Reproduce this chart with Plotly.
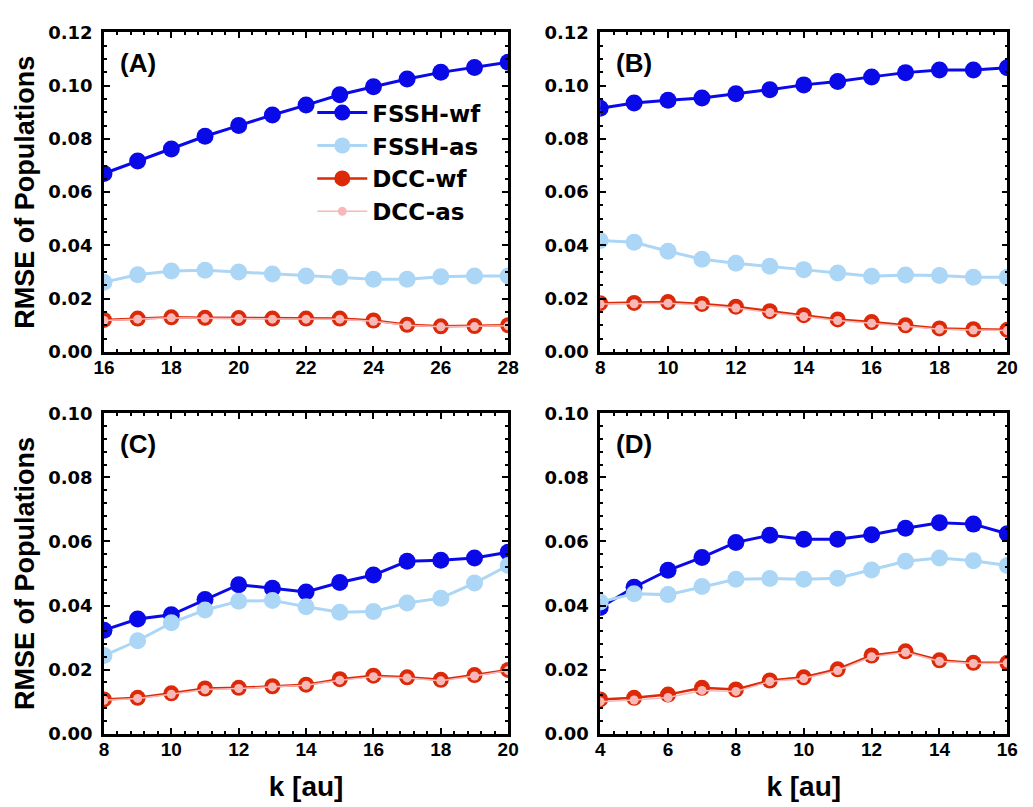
import plotly.graph_objects as go

# ---------------- data ----------------
k_A = [16, 17, 18, 19, 20, 21, 22, 23, 24, 25, 26, 27, 28]
A_fssh_wf = [0.0670, 0.0717, 0.0762, 0.0810, 0.0850, 0.0890, 0.0927, 0.0966, 0.0996, 0.1025, 0.1050, 0.1068, 0.1088]
A_fssh_as = [0.0262, 0.0290, 0.0304, 0.0307, 0.0300, 0.0293, 0.0285, 0.0280, 0.0273, 0.0273, 0.0282, 0.0285, 0.0285]
A_dcc_wf = [0.0120, 0.0125, 0.0130, 0.0128, 0.0127, 0.0125, 0.0125, 0.0125, 0.0118, 0.0102, 0.0096, 0.0097, 0.0100]
A_dcc_as = [0.0118, 0.0123, 0.0128, 0.0126, 0.0125, 0.0123, 0.0123, 0.0123, 0.0115, 0.0100, 0.0094, 0.0095, 0.0098]

k_B = [8, 9, 10, 11, 12, 13, 14, 15, 16, 17, 18, 19, 20]
B_fssh_wf = [0.0915, 0.0935, 0.0945, 0.0954, 0.0970, 0.0985, 0.1003, 0.1016, 0.1033, 0.1049, 0.1059, 0.1059, 0.1067]
B_fssh_as = [0.0418, 0.0412, 0.0378, 0.0348, 0.0333, 0.0322, 0.0309, 0.0296, 0.0284, 0.0289, 0.0287, 0.0280, 0.0280]
B_dcc_wf = [0.0183, 0.0184, 0.0187, 0.0180, 0.0170, 0.0153, 0.0138, 0.0122, 0.0112, 0.0100, 0.0088, 0.0085, 0.0083]
B_dcc_as = [0.0180, 0.0181, 0.0183, 0.0176, 0.0165, 0.0148, 0.0133, 0.0118, 0.0108, 0.0096, 0.0085, 0.0082, 0.0080]

k_C = [8, 9, 10, 11, 12, 13, 14, 15, 16, 17, 18, 19, 20]
C_fssh_wf = [0.0323, 0.0358, 0.0371, 0.0419, 0.0465, 0.0454, 0.0442, 0.0472, 0.0495, 0.0538, 0.0541, 0.0548, 0.0566]
C_fssh_as = [0.0244, 0.0290, 0.0346, 0.0386, 0.0413, 0.0416, 0.0396, 0.0379, 0.0381, 0.0408, 0.0423, 0.0470, 0.0525]
C_dcc_wf = [0.0107, 0.0112, 0.0126, 0.0141, 0.0143, 0.0148, 0.0153, 0.0170, 0.0181, 0.0176, 0.0168, 0.0183, 0.0199]
C_dcc_as = [0.0104, 0.0110, 0.0123, 0.0138, 0.0141, 0.0146, 0.0151, 0.0167, 0.0178, 0.0174, 0.0165, 0.0180, 0.0197]

k_D = [4, 5, 6, 7, 8, 9, 10, 11, 12, 13, 14, 15, 16]
D_fssh_wf = [0.0394, 0.0457, 0.0510, 0.0550, 0.0597, 0.0619, 0.0607, 0.0607, 0.0621, 0.0641, 0.0658, 0.0654, 0.0624]
D_fssh_as = [0.0411, 0.0437, 0.0434, 0.0459, 0.0482, 0.0484, 0.0482, 0.0485, 0.0511, 0.0538, 0.0548, 0.0540, 0.0525]
D_dcc_wf = [0.0107, 0.0112, 0.0122, 0.0143, 0.0138, 0.0166, 0.0176, 0.0201, 0.0244, 0.0257, 0.0229, 0.0221, 0.0221]
D_dcc_as = [0.0100, 0.0105, 0.0113, 0.0135, 0.0132, 0.0163, 0.0172, 0.0197, 0.0240, 0.0254, 0.0226, 0.0219, 0.0220]

panel_labels = ["(A)", "(B)", "(C)", "(D)"]
series_names = ["FSSH-wf", "FSSH-as", "DCC-wf", "DCC-as"]
x_title = "k [au]"
y_title = "RMSE of Populations"

# ---------------- styling ----------------
C_FSSH_WF = "#0a0ae8"
C_FSSH_AS = "#acd6f6"
C_DCC_WF = "#dc2a08"
C_DCC_AS = "#f8b8b8"

styles = [
    dict(color=C_FSSH_WF, lw=3, ms=17),
    dict(color=C_FSSH_AS, lw=3, ms=17),
    dict(color=C_DCC_WF, lw=2.5, ms=16),
    dict(color=C_DCC_AS, lw=1.5, ms=9),
]

panels = [
    (k_A, [A_fssh_wf, A_fssh_as, A_dcc_wf, A_dcc_as], [16, 28], [0, 0.12]),
    (k_B, [B_fssh_wf, B_fssh_as, B_dcc_wf, B_dcc_as], [8, 20], [0, 0.12]),
    (k_C, [C_fssh_wf, C_fssh_as, C_dcc_wf, C_dcc_as], [8, 20], [0, 0.10]),
    (k_D, [D_fssh_wf, D_fssh_as, D_dcc_wf, D_dcc_as], [4, 16], [0, 0.10]),
]

W, H = 1033, 807
# pixel boxes: (left, right, top, bottom)
boxes = [(95, 508, 22, 350), (602, 1018, 22, 350), (95, 508, 413, 742), (602, 1018, 413, 742)]

SANS = "Liberation Sans, Arial"
WIDE = "DejaVu Sans"

fig = go.Figure()
layout = dict(
    width=W, height=H,
    margin=dict(l=0, r=0, t=0, b=0),
    plot_bgcolor="white", paper_bgcolor="white",
    showlegend=True,
    legend=dict(x=0.298, y=0.898, xanchor="left", yanchor="top",
                bgcolor="rgba(0,0,0,0)", borderwidth=0,
                font=dict(family=WIDE, size=23, color="black", weight="bold"),
                tracegroupgap=0, itemwidth=50),
)

annotations = []
for i, (kx, ys, xr, yr) in enumerate(panels):
    n = i + 1
    xa = "x" if n == 1 else f"x{n}"
    ya = "y" if n == 1 else f"y{n}"
    for j, y in enumerate(ys):
        s = styles[j]
        fig.add_trace(go.Scatter(
            x=kx, y=y, mode="lines+markers", name=series_names[j],
            line=dict(color=s["color"], width=s["lw"]),
            marker=dict(color=s["color"], size=s["ms"], line=dict(width=0)),
            xaxis=xa, yaxis=ya, showlegend=(i == 0), legendgroup=series_names[j],
        ))
    l, r, t, b = boxes[i]
    xdom = [l / W, r / W]
    ydom = [1 - b / H, 1 - t / H]
    ymin = 0.005 if yr[1] > 0.11 else 0.004
    common = dict(showline=True, linecolor="black", linewidth=2.5, mirror="allticks",
                  ticks="inside", ticklen=6, tickwidth=2, tickcolor="black",
                  showgrid=False, zeroline=False)
    xkey = "xaxis" if n == 1 else f"xaxis{n}"
    ykey = "yaxis" if n == 1 else f"yaxis{n}"
    layout[xkey] = dict(domain=xdom, range=xr, anchor=ya, dtick=2, tick0=0,
                        minor=dict(dtick=0.4, ticklen=3, tickwidth=2, tickcolor="black", ticks="inside"),
                        tickfont=dict(family=SANS, size=19, color="black", weight="bold"),
                        ticklabelstandoff=-3,
                        **common)
    layout[ykey] = dict(domain=ydom, range=yr, anchor=xa, dtick=0.02, tick0=0, tickformat=".2f",
                        minor=dict(dtick=ymin, ticklen=3, tickwidth=2, tickcolor="black", ticks="inside"),
                        tickfont=dict(family=WIDE, size=18, color="black", weight="bold"),
                        ticklabelstandoff=5,
                        **common)
    if n in (3, 4):
        layout[xkey]["title"] = dict(text=x_title, standoff=18,
                                     font=dict(family=SANS, size=28, color="black", weight="bold"))
    if n in (1, 3):
        layout[ykey]["title"] = dict(text=y_title, standoff=6,
                                     font=dict(family=SANS, size=27, color="black", weight="bold"))
    annotations.append(dict(
        text=panel_labels[i], xref=f"{xa} domain", yref=f"{ya} domain",
        x=0.035, y=0.905, xanchor="left", yanchor="middle", showarrow=False,
        font=dict(family=SANS, size=26, color="black", weight="bold"),
    ))

layout["annotations"] = annotations
fig.update_layout(**layout)
fig.write_html("out.html")
